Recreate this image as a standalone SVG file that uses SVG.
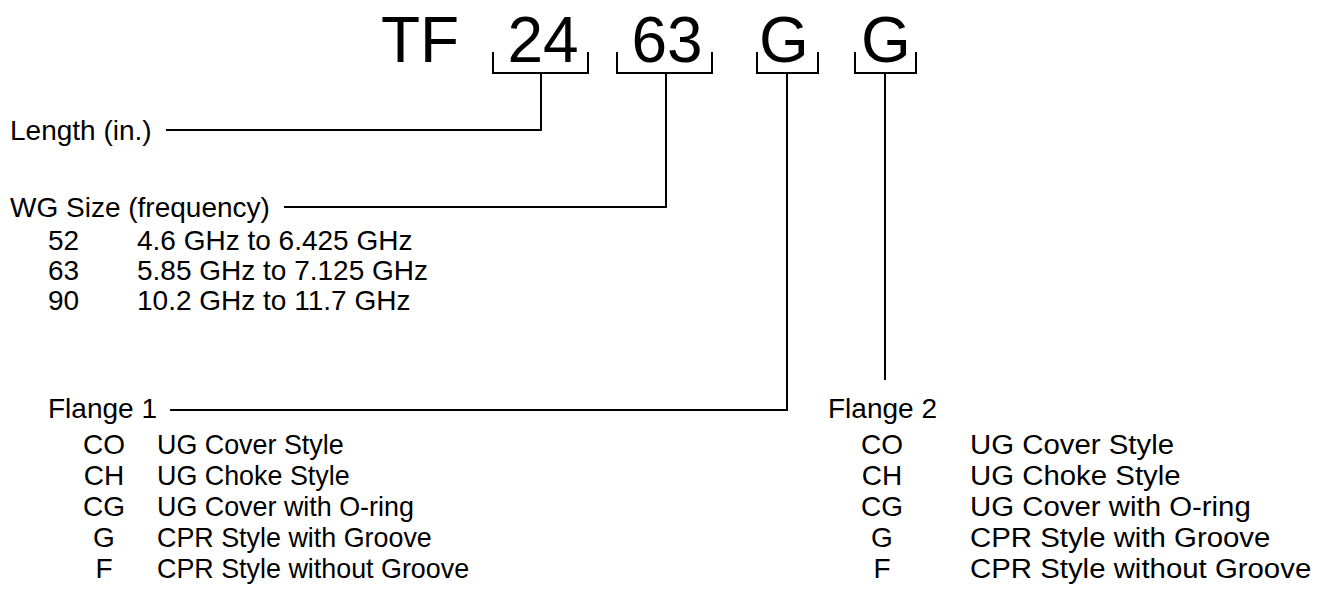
<svg xmlns="http://www.w3.org/2000/svg" width="1317" height="611" viewBox="0 0 1317 611">
<style>
text{font-family:"Liberation Sans",Arial,sans-serif;fill:#000}
.t{font-size:64px;text-anchor:middle}
.l{font-size:28px}
.c{font-size:28px;text-anchor:middle}
.ln{fill:none;stroke:#000;stroke-width:2}
</style>
<rect width="1317" height="611" fill="#fff"/>
<g id="code">
<text class="t" x="420" y="62">TF</text>
<text class="t" x="543" y="62">24</text>
<text class="t" x="667" y="62">63</text>
<text class="t" x="784" y="62">G</text>
<text class="t" x="886" y="62">G</text>
</g>
<g id="brackets">
<path class="ln" d="M493,52V73H588V52"/>
<path class="ln" d="M617,52V73H712V52"/>
<path class="ln" d="M757,52V73H818V52"/>
<path class="ln" d="M855,52V73H916V52"/>
</g>
<g id="connectors">
<path class="ln" d="M541,73V130H166"/>
<path class="ln" d="M666,73V207H284"/>
<path class="ln" d="M787,73V410H170"/>
<path class="ln" d="M885,73V380"/>
</g>
<g id="length">
<text class="l" x="10" y="140">Length (in.)</text>
</g>
<g id="wgsize">
<text class="l" x="10" y="217">WG Size (frequency)</text>
<text class="l" x="48" y="250">52</text><text class="l" x="137" y="250">4.6 GHz to 6.425 GHz</text>
<text class="l" x="48" y="280">63</text><text class="l" x="137" y="280">5.85 GHz to 7.125 GHz</text>
<text class="l" x="48" y="310">90</text><text class="l" x="137" y="310">10.2 GHz to 11.7 GHz</text>
</g>
<g id="flange1">
<text class="l" x="48" y="418">Flange 1</text>
<text class="c" x="104" y="454">CO</text>
<text class="c" x="104" y="485">CH</text>
<text class="c" x="104" y="516">CG</text>
<text class="c" x="104" y="547">G</text>
<text class="c" x="104" y="578">F</text>
<g transform="translate(157,0) scale(0.96,1) translate(-157,0)">
<text class="l" x="157" y="454">UG Cover Style</text>
<text class="l" x="157" y="485">UG Choke Style</text>
<text class="l" x="157" y="516">UG Cover with O-ring</text>
<text class="l" x="157" y="547">CPR Style with Groove</text>
<text class="l" x="157" y="578">CPR Style without Groove</text>
</g>
</g>
<g id="flange2">
<text class="l" x="828" y="418">Flange 2</text>
<text class="c" x="882" y="454">CO</text>
<text class="c" x="882" y="485">CH</text>
<text class="c" x="882" y="516">CG</text>
<text class="c" x="882" y="547">G</text>
<text class="c" x="882" y="578">F</text>
<g transform="translate(970,0) scale(1.05,1) translate(-970,0)">
<text class="l" x="970" y="454">UG Cover Style</text>
<text class="l" x="970" y="485">UG Choke Style</text>
<text class="l" x="970" y="516">UG Cover with O-ring</text>
<text class="l" x="970" y="547">CPR Style with Groove</text>
<text class="l" x="970" y="578">CPR Style without Groove</text>
</g>
</g>
</svg>
